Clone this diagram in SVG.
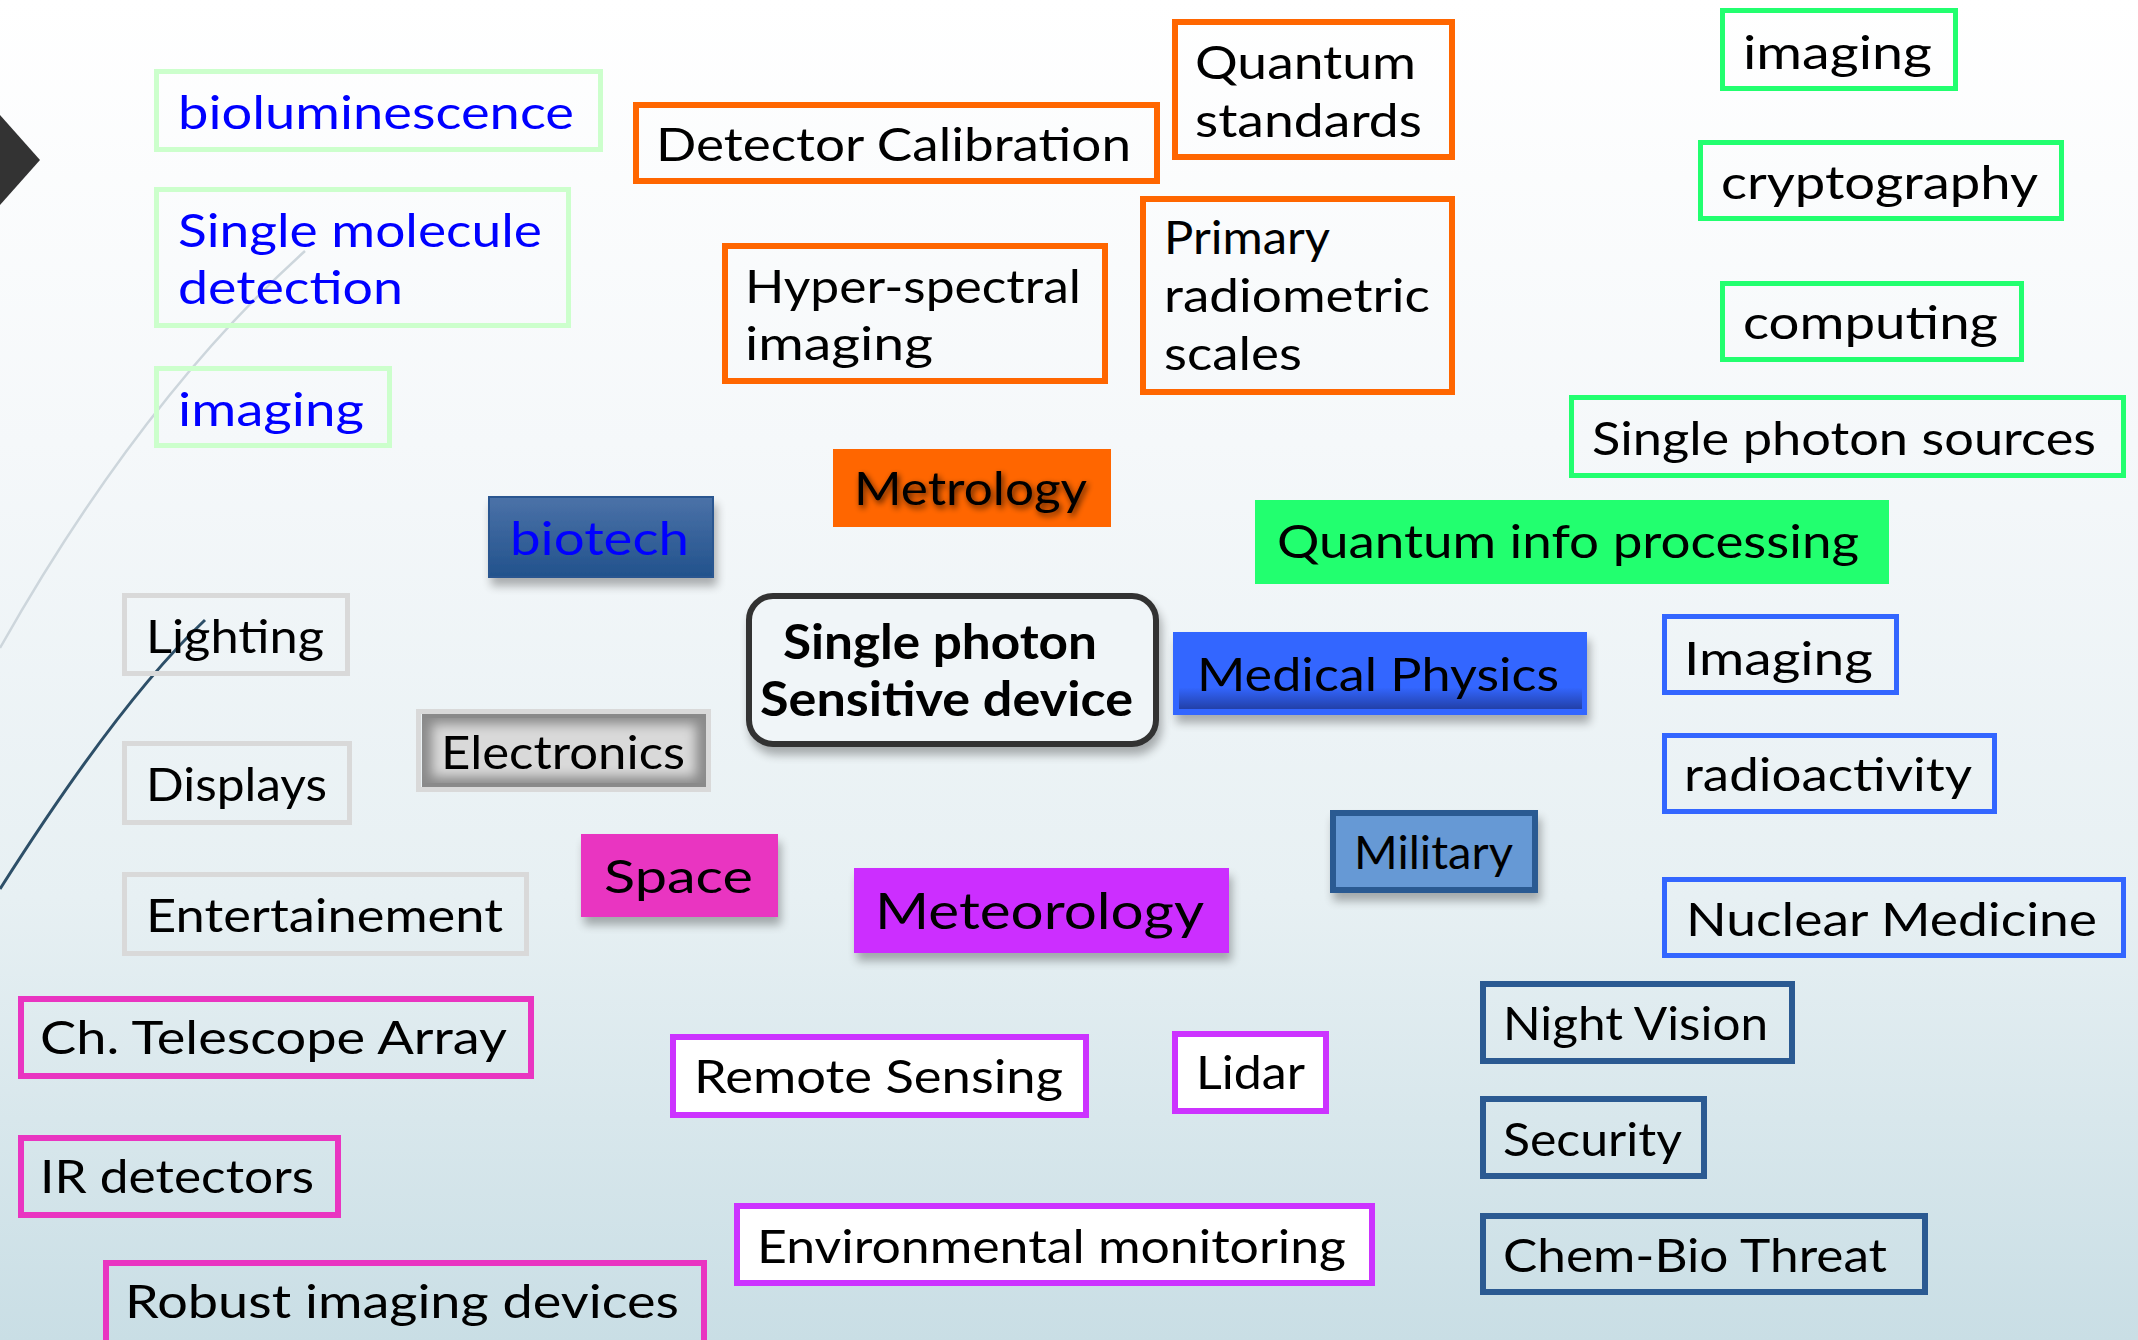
<svg xmlns="http://www.w3.org/2000/svg" width="2138" height="1340" viewBox="0 0 2138 1340">
<defs>
<linearGradient id="bg" x1="0" y1="0" x2="0" y2="1">
<stop offset="0" stop-color="#FFFFFF"/>
<stop offset="0.33" stop-color="#F5F8FA"/>
<stop offset="0.67" stop-color="#E7F0F3"/>
<stop offset="1" stop-color="#C9DEE5"/>
</linearGradient>
<linearGradient id="bioG" x1="0" y1="0" x2="0" y2="1">
<stop offset="0" stop-color="#4B72A8"/>
<stop offset="1" stop-color="#22528C"/>
</linearGradient>
<linearGradient id="medG" x1="0" y1="0" x2="0" y2="1">
<stop offset="0" stop-color="#3366FF"/>
<stop offset="0.7" stop-color="#3366FF"/>
<stop offset="1" stop-color="#2240A8"/>
</linearGradient>
<filter id="shadow" x="-20%" y="-30%" width="140%" height="180%">
<feGaussianBlur in="SourceAlpha" stdDeviation="5"/>
<feOffset dx="3" dy="8" result="o"/>
<feComponentTransfer><feFuncA type="linear" slope="0.3"/></feComponentTransfer>
<feMerge><feMergeNode/><feMergeNode in="SourceGraphic"/></feMerge>
</filter>
<filter id="glow" x="-10%" y="-30%" width="120%" height="160%">
<feGaussianBlur in="SourceAlpha" stdDeviation="3"/>
<feOffset dx="2" dy="3"/>
<feComponentTransfer><feFuncA type="linear" slope="0.7"/></feComponentTransfer>
<feMerge><feMergeNode/><feMergeNode in="SourceGraphic"/></feMerge>
</filter>
<filter id="blur5"><feGaussianBlur stdDeviation="6"/></filter>
<clipPath id="elecClip"><rect x="422" y="714" width="284" height="73"/></clipPath>
<style>
.t{font-family:Lato,"Liberation Sans",sans-serif;font-size:47px;fill:#000000}
.blue{fill:#0000FF}
.bold{font-weight:700}
.lg{fill:none;stroke:#CCFFCC;stroke-width:5}
.or{fill:none;stroke:#FF6600;stroke-width:6}
.gr{fill:none;stroke:#22FF6F;stroke-width:5}
.gy{fill:none;stroke:#D9D9D9;stroke-width:5}
.bl{fill:none;stroke:#3366FF;stroke-width:5}
.db{fill:none;stroke:#2B5A92;stroke-width:6}
.pk{fill:none;stroke:#E935C1;stroke-width:6}
.pu{fill:#FFFFFF;stroke:#CC33FF;stroke-width:6}
</style>
</defs>

<g id="background">
<rect x="0" y="0" width="2138" height="1340" fill="url(#bg)"/>
<path d="M305,251 Q140,400 0,648" fill="none" stroke="#CDD6DC" stroke-width="2.5"/>
<path d="M205,620 Q120,700 0,889" fill="none" stroke="#2D4F68" stroke-width="3"/>
<polygon points="0,115 40,160 0,205" fill="#333333"/>
</g>

<g id="connectors"/>

<g id="bioluminescence"><rect class="lg" x="156.5" y="71.5" width="444" height="78"/><text class="t blue" x="178" y="129" textLength="396" lengthAdjust="spacingAndGlyphs">bioluminescence</text></g>
<g id="single-molecule"><rect class="lg" x="156.5" y="189.5" width="412" height="136"/><text class="t blue" x="178" y="247" textLength="364" lengthAdjust="spacingAndGlyphs">Single molecule</text><text class="t blue" x="178" y="304" textLength="225" lengthAdjust="spacingAndGlyphs">detection</text></g>
<g id="imaging-bio"><rect class="lg" x="156.5" y="368.5" width="233" height="77"/><text class="t blue" x="178" y="426" textLength="186" lengthAdjust="spacingAndGlyphs">imaging</text></g>

<g id="detector-calibration"><rect class="or" x="636" y="105" width="521" height="76"/><text class="t" x="656" y="161" textLength="475" lengthAdjust="spacingAndGlyphs">Detector Calibration</text></g>
<g id="quantum-standards"><rect class="or" x="1175" y="22" width="277" height="135"/><text class="t" x="1195" y="79" textLength="221" lengthAdjust="spacingAndGlyphs">Quantum</text><text class="t" x="1195" y="137" textLength="227" lengthAdjust="spacingAndGlyphs">standards</text></g>
<g id="hyper-spectral"><rect class="or" x="725" y="246" width="380" height="135"/><text class="t" x="745" y="303" textLength="336" lengthAdjust="spacingAndGlyphs">Hyper-spectral</text><text class="t" x="745" y="360" textLength="188" lengthAdjust="spacingAndGlyphs">imaging</text></g>
<g id="primary-radiometric"><rect class="or" x="1143" y="199" width="309" height="193"/><text class="t" x="1164" y="254" textLength="166" lengthAdjust="spacingAndGlyphs">Primary</text><text class="t" x="1164" y="312" textLength="266" lengthAdjust="spacingAndGlyphs">radiometric</text><text class="t" x="1164" y="370" textLength="138" lengthAdjust="spacingAndGlyphs">scales</text></g>

<g id="imaging-quantum"><rect class="gr" x="1722.5" y="10.5" width="233" height="78"/><text class="t" x="1743" y="69" textLength="189" lengthAdjust="spacingAndGlyphs">imaging</text></g>
<g id="cryptography"><rect class="gr" x="1700.5" y="142.5" width="361" height="76"/><text class="t" x="1721" y="199" textLength="317" lengthAdjust="spacingAndGlyphs">cryptography</text></g>
<g id="computing"><rect class="gr" x="1722.5" y="283.5" width="299" height="76"/><text class="t" x="1743" y="339" textLength="255" lengthAdjust="spacingAndGlyphs">computing</text></g>
<g id="single-photon-sources"><rect class="gr" x="1571.5" y="397.5" width="552" height="78"/><text class="t" x="1592" y="455" textLength="504" lengthAdjust="spacingAndGlyphs">Single photon sources</text></g>

<g id="quantum-info"><rect x="1255" y="500" width="634" height="84" fill="#22FF6F"/><text class="t" x="1277" y="558" textLength="582" lengthAdjust="spacingAndGlyphs">Quantum info processing</text></g>
<g id="metrology"><rect x="833" y="449" width="278" height="78" fill="#FF6600"/><text class="t" x="854" y="505" textLength="233" lengthAdjust="spacingAndGlyphs" filter="url(#glow)">Metrology</text></g>
<g id="biotech"><rect x="489" y="497" width="224" height="80" fill="url(#bioG)" stroke="#2A5690" stroke-width="2" filter="url(#shadow)"/><text class="t blue" x="510" y="555" textLength="179" lengthAdjust="spacingAndGlyphs">biotech</text></g>

<g id="center"><rect x="749" y="596" width="407" height="148" rx="24" fill="#F0F5F8" stroke="#333333" stroke-width="6" filter="url(#shadow)"/><text class="t bold" x="783" y="659" textLength="314" lengthAdjust="spacingAndGlyphs">Single photon</text><text class="t bold" x="760" y="716" textLength="373" lengthAdjust="spacingAndGlyphs">Sensitive device</text></g>

<g id="medical-physics"><rect x="1173" y="632" width="414" height="83" fill="#3366FF" filter="url(#shadow)"/><rect x="1179" y="637" width="403" height="72" fill="url(#medG)"/><text class="t" x="1197" y="691" textLength="362" lengthAdjust="spacingAndGlyphs">Medical Physics</text></g>

<g id="lighting"><rect class="gy" x="124.5" y="595.5" width="223" height="78"/><text class="t" x="146" y="653" textLength="178" lengthAdjust="spacingAndGlyphs">Lighting</text></g>
<g id="displays"><rect class="gy" x="124.5" y="743.5" width="225" height="79"/><text class="t" x="146" y="801" textLength="181" lengthAdjust="spacingAndGlyphs">Displays</text></g>
<g id="entertainement"><rect class="gy" x="124.5" y="874.5" width="402" height="79"/><text class="t" x="146" y="932" textLength="357" lengthAdjust="spacingAndGlyphs">Entertainement</text></g>
<g id="electronics"><rect class="gy" x="418.5" y="711.5" width="290" height="78"/><g clip-path="url(#elecClip)"><rect x="422" y="714" width="284" height="73" fill="#8A8A8A"/><rect x="432" y="724" width="264" height="53" fill="#D9D9D9" filter="url(#blur5)"/></g><text class="t" x="441" y="769" textLength="244" lengthAdjust="spacingAndGlyphs">Electronics</text></g>

<g id="space"><rect x="581" y="834" width="197" height="83" fill="#E935C1" filter="url(#shadow)"/><text class="t" x="604" y="893" textLength="149" lengthAdjust="spacingAndGlyphs">Space</text></g>
<g id="meteorology"><rect x="854" y="868" width="375" height="85" fill="#CC2EFF" filter="url(#shadow)"/><text class="t" x="875" y="929" style="font-size:50px" textLength="329" lengthAdjust="spacingAndGlyphs">Meteorology</text></g>
<g id="military"><rect x="1333" y="813" width="202" height="77" fill="#6699D5" stroke="#2B5A92" stroke-width="6" filter="url(#shadow)"/><text class="t" x="1354" y="869" textLength="159" lengthAdjust="spacingAndGlyphs">Military</text></g>

<g id="imaging-med"><rect class="bl" x="1664.5" y="616.5" width="232" height="76"/><text class="t" x="1684" y="675" textLength="189" lengthAdjust="spacingAndGlyphs">Imaging</text></g>
<g id="radioactivity"><rect class="bl" x="1664.5" y="735.5" width="330" height="76"/><text class="t" x="1684" y="791" textLength="288" lengthAdjust="spacingAndGlyphs">radioactivity</text></g>
<g id="nuclear-medicine"><rect class="bl" x="1664.5" y="879.5" width="459" height="76"/><text class="t" x="1686" y="936" textLength="411" lengthAdjust="spacingAndGlyphs">Nuclear Medicine</text></g>

<g id="night-vision"><rect class="db" x="1483" y="984" width="309" height="77"/><text class="t" x="1503" y="1040" textLength="265" lengthAdjust="spacingAndGlyphs">Night Vision</text></g>
<g id="security"><rect class="db" x="1483" y="1099" width="221" height="77"/><text class="t" x="1503" y="1156" textLength="179" lengthAdjust="spacingAndGlyphs">Security</text></g>
<g id="chem-bio"><rect class="db" x="1483" y="1216" width="442" height="76"/><text class="t" x="1503" y="1272" textLength="384" lengthAdjust="spacingAndGlyphs">Chem-Bio Threat</text></g>

<g id="telescope"><rect class="pk" x="21" y="999" width="510" height="77"/><text class="t" x="40" y="1054" textLength="467" lengthAdjust="spacingAndGlyphs">Ch. Telescope Array</text></g>
<g id="ir-detectors"><rect class="pk" x="21" y="1138" width="317" height="77"/><text class="t" x="40" y="1193" textLength="274" lengthAdjust="spacingAndGlyphs">IR detectors</text></g>
<g id="robust"><rect class="pk" x="106" y="1263" width="598" height="90"/><text class="t" x="125" y="1318" textLength="554" lengthAdjust="spacingAndGlyphs">Robust imaging devices</text></g>

<g id="remote-sensing"><rect class="pu" x="673" y="1037" width="413" height="78"/><text class="t" x="694" y="1093" textLength="369" lengthAdjust="spacingAndGlyphs">Remote Sensing</text></g>
<g id="lidar"><rect class="pu" x="1175" y="1034" width="151" height="77"/><text class="t" x="1196" y="1089" textLength="109" lengthAdjust="spacingAndGlyphs">Lidar</text></g>
<g id="environmental"><rect class="pu" x="737" y="1206" width="635" height="77"/><text class="t" x="757" y="1263" textLength="589" lengthAdjust="spacingAndGlyphs">Environmental monitoring</text></g>
</svg>
